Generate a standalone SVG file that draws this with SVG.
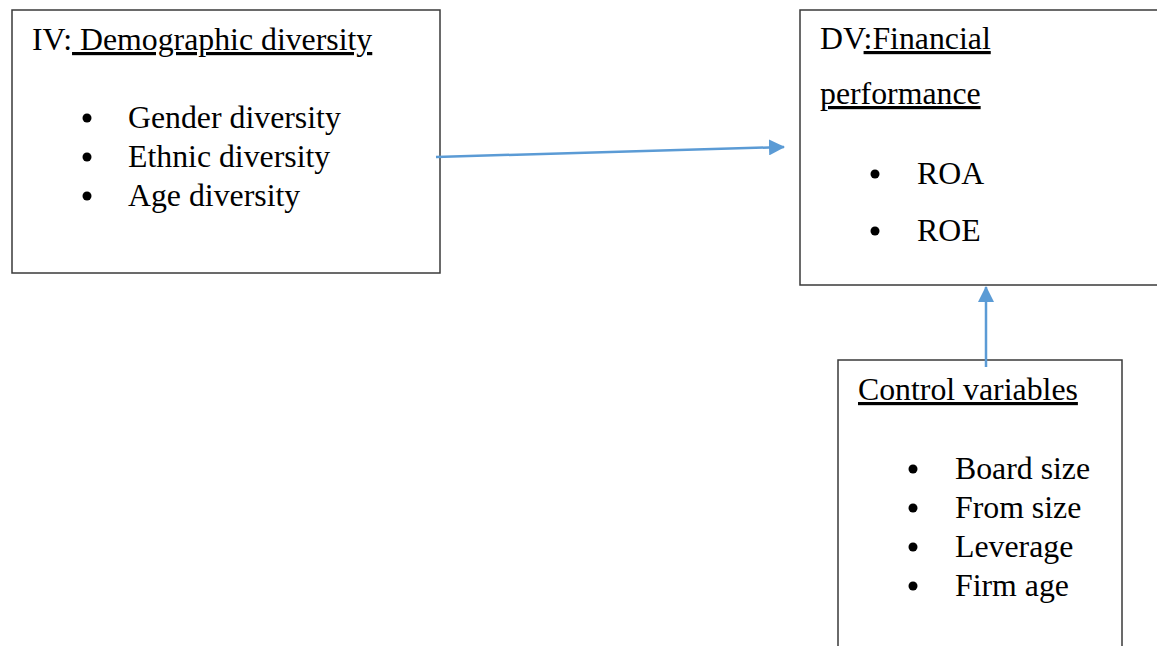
<svg xmlns="http://www.w3.org/2000/svg" width="1157" height="646" viewBox="0 0 1157 646">
<style>
.box{fill:#fff;stroke:#3a3a3a;stroke-width:1.5}
text{font-family:"Liberation Serif","Times New Roman",serif;font-size:31.8px;fill:#000}
.u{text-decoration:underline}
.conn{stroke:#5B9BD5;stroke-width:2.5;fill:none}
</style>
<defs>
<marker id="ah" markerWidth="8" markerHeight="8" refX="6" refY="4" orient="auto" markerUnits="userSpaceOnUse" viewBox="0 0 8 8">
<path d="M0,0 L8,4 L0,8 z" fill="#5B9BD5"/>
</marker>
<marker id="arr" viewBox="0 0 16 16" refX="15" refY="8" markerWidth="16" markerHeight="16" orient="auto" markerUnits="userSpaceOnUse">
<path d="M0,0 L16,8 L0,16 z" fill="#5B9BD5"/>
</marker>
</defs>
<g id="iv">
<rect class="box" x="12" y="10" width="428" height="263"/>
<text x="32" y="50">IV:<tspan class="u"> Demographic diversity</tspan></text>
<circle cx="87" cy="118" r="4.5"/><text x="128" y="128">Gender diversity</text>
<circle cx="87" cy="157" r="4.5"/><text x="128" y="167">Ethnic diversity</text>
<circle cx="87" cy="196" r="4.5"/><text x="128" y="206">Age diversity</text>
</g>
<g id="dv">
<rect class="box" x="800" y="10" width="370" height="275"/>
<text x="820" y="49">DV<tspan class="u">:Financial</tspan></text>
<text x="820" y="104" class="u">performance</text>
<circle cx="875" cy="174" r="4.5"/><text x="917" y="184">ROA</text>
<circle cx="875" cy="231" r="4.5"/><text x="917" y="241">ROE</text>
</g>
<g id="cv">
<rect class="box" x="838" y="360" width="284" height="300"/>
<text x="858" y="400" class="u">Control variables</text>
<circle cx="913" cy="469" r="4.5"/><text x="955" y="479">Board size</text>
<circle cx="913" cy="508" r="4.5"/><text x="955" y="518">From size</text>
<circle cx="913" cy="547" r="4.5"/><text x="955" y="557">Leverage</text>
<circle cx="913" cy="586" r="4.5"/><text x="955" y="596">Firm age</text>
</g>
<g id="connectors">
<line class="conn" x1="436" y1="157" x2="784" y2="147" marker-end="url(#arr)"/>
<line class="conn" x1="986" y1="367" x2="986" y2="287" marker-end="url(#arr)"/>
</g>
</svg>
